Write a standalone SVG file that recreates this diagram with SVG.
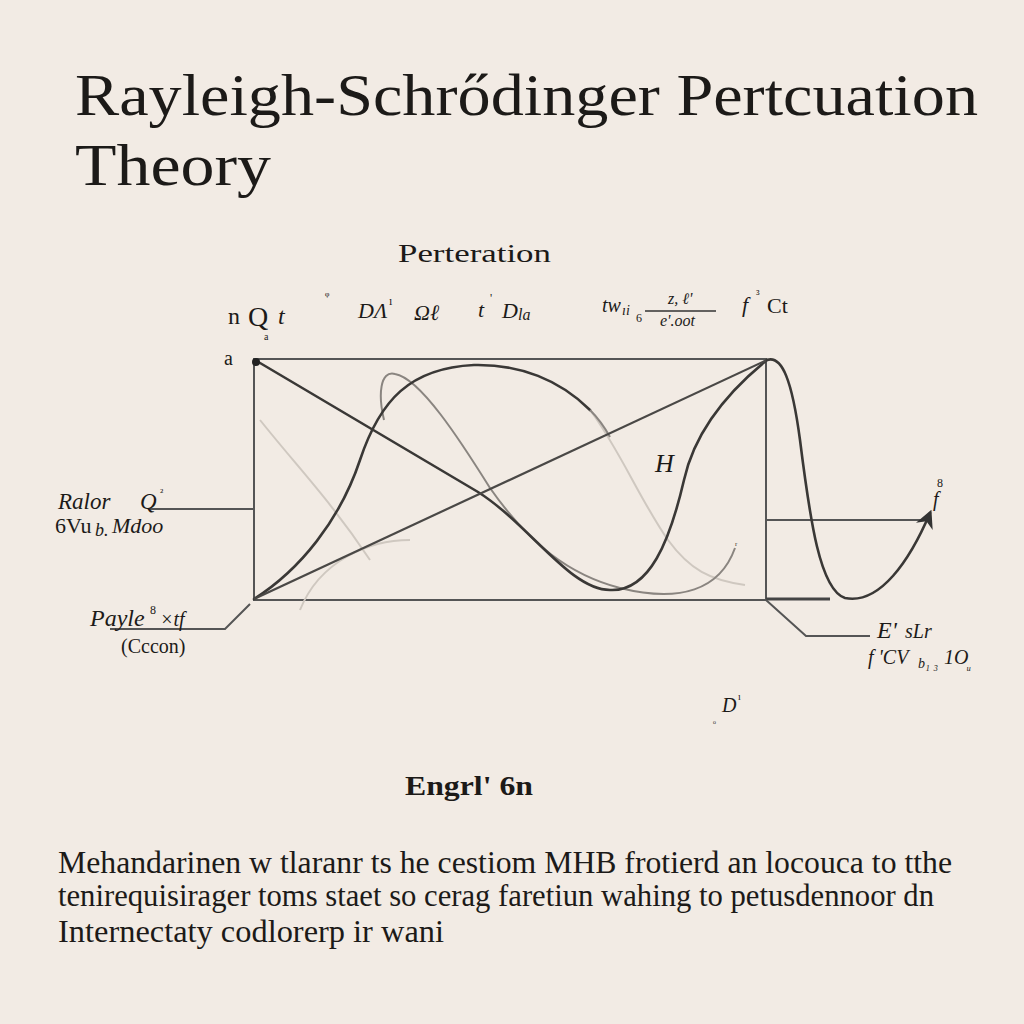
<svg xmlns="http://www.w3.org/2000/svg" width="1024" height="1024" viewBox="0 0 1024 1024">
<defs>
<style>
.t{font-family:"Liberation Serif","DejaVu Serif",serif;fill:#1c1a18}
.i{font-style:italic}
.ln{fill:none;stroke:#555;stroke-width:2}
.dk{fill:none;stroke:#3a3836;stroke-width:2.6;stroke-linecap:round}
.gr{fill:none;stroke:#8a8580;stroke-width:2}
.fa{fill:none;stroke:#cfc8c0;stroke-width:2}
</style>
<marker id="ah" viewBox="0 0 10 10" refX="8" refY="5" markerWidth="7" markerHeight="7" orient="auto"><path d="M0,0 L10,5 L0,10 L3,5 z" fill="#333"/></marker>
</defs>
<rect width="1024" height="1024" fill="#f2ebe4"/>
<g id="title">
<text class="t" x="75" y="115" font-size="60" textLength="903" lengthAdjust="spacingAndGlyphs">Rayleigh-Schrődinger Pertcuation</text>
<text class="t" x="75" y="185" font-size="60" textLength="196" lengthAdjust="spacingAndGlyphs">Theory</text>
</g>
<g id="header-labels">
<text class="t" x="398" y="262" font-size="26" textLength="153" lengthAdjust="spacingAndGlyphs">Perteration</text>
<text class="t" x="228" y="324" font-size="24">n</text>
<text class="t" x="248" y="326" font-size="28">Q</text>
<text class="t i" x="278" y="324" font-size="24">t</text>
<text class="t" x="264" y="340" font-size="10">a</text>
<text class="t" x="325" y="300" font-size="13">ᵠ</text>
<text class="t i" x="358" y="318" font-size="22">DΛ</text>
<text class="t" x="389" y="305" font-size="12">ı</text>
<text class="t i" x="414" y="320" font-size="22">Ωℓ</text>
<text class="t i" x="478" y="317" font-size="22">t</text>
<text class="t" x="490" y="302" font-size="12">'</text>
<text class="t i" x="502" y="318" font-size="22">D</text>
<text class="t i" x="518" y="320" font-size="16">la</text>
<text class="t i" x="602" y="312" font-size="20">tw</text>
<text class="t i" x="622" y="315" font-size="14">ıi</text>
<text class="t" x="636" y="322" font-size="12">6</text>
<text class="t i" x="668" y="304" font-size="16">z, ℓ'</text>
<line x1="645" y1="311" x2="716" y2="311" stroke="#333" stroke-width="1.6"/>
<text class="t i" x="660" y="326" font-size="16">e'.oot</text>
<text class="t i" x="742" y="312" font-size="22">f</text>
<text class="t" x="756" y="298" font-size="12">³</text>
<text class="t" x="767" y="313" font-size="22">Ct</text>
<text class="t" x="224" y="365" font-size="20">a</text>
</g>
<g id="plot">
<rect x="254" y="359" width="512" height="241" class="ln"/>
<line x1="766" y1="520" x2="928" y2="520" class="ln"/>
<line x1="766" y1="599" x2="830" y2="599" stroke="#444" stroke-width="3"/>
<path class="fa" d="M300,610 C320,560 370,540 410,540 M260,420 C300,470 330,500 370,560 M590,410 C620,450 640,500 668,540 C690,570 710,580 745,585"/>
<path class="gr" d="M384,420 C378,395 380,370 395,374 C420,378 460,440 490,488 C530,545 570,575 620,588 C680,603 720,590 735,548"/>
<path class="dk" d="M254,599 C300,570 340,520 360,460 C380,400 410,368 474,365 C520,364 560,380 590,410"/>
<path class="gr" d="M590,410 C600,420 605,428 610,437"/>
<path class="dk" d="M255,360 L478,492 C530,525 570,590 610,590 C650,592 670,540 684,480 C695,430 730,390 767,360"/>
<line x1="254" y1="599" x2="767" y2="360" stroke="#4a4846" stroke-width="2.2"/>
<path class="dk" d="M767,360 C782,355 792,380 800,440 C810,520 820,590 845,598 C880,605 910,560 930,513" marker-end="url(#ah)"/>
<circle cx="256" cy="362" r="4" fill="#222"/>
<text class="t i" x="655" y="472" font-size="26" fill="#444">H</text>
<text class="t" x="735" y="549" font-size="10">ʳ</text>
</g>
<g id="label-left-top">
<line x1="150" y1="509" x2="254" y2="509" class="ln"/>
<text class="t i" x="58" y="509" font-size="23">Ralor</text>
<text class="t i" x="140" y="509" font-size="23">Q</text>
<text class="t" x="160" y="496" font-size="11">²</text>
<text class="t" x="55" y="533" font-size="22">6Vu</text>
<text class="t i" x="95" y="536" font-size="18">b.</text>
<text class="t i" x="112" y="533" font-size="22">Mdoo</text>
</g>
<g id="label-left-bottom">
<path class="ln" d="M110,629 L225,629 L250,604"/>
<text class="t i" x="90" y="626" font-size="24">Payle</text>
<text class="t" x="150" y="614" font-size="12">8</text>
<text class="t i" x="160" y="626" font-size="20">×tf</text>
<text class="t" x="121" y="653" font-size="20">(Cccon)</text>
</g>
<g id="label-right">
<path class="ln" d="M766,600 L806,636 L870,636"/>
<text class="t i" x="877" y="638" font-size="24">E'</text>
<text class="t i" x="905" y="638" font-size="20">sLr</text>
<text class="t i" x="868" y="664" font-size="20">f 'CV</text>
<text class="t i" x="918" y="668" font-size="14">b₁ ₃</text>
<text class="t i" x="944" y="664" font-size="20">1O</text>
<text class="t i" x="967" y="670" font-size="14">ᵤ</text>
<text class="t i" x="933" y="506" font-size="20">f</text>
<text class="t" x="937" y="487" font-size="12">8</text>
</g>
<g id="label-d">
<text class="t i" x="722" y="712" font-size="20">D</text>
<text class="t" x="738" y="700" font-size="10">ı</text>
<text class="t" x="713" y="727" font-size="10">ᵒ</text>
</g>
<g id="caption">
<text class="t" x="405" y="795" font-size="28" font-weight="bold" textLength="128" lengthAdjust="spacingAndGlyphs">Engrl' 6n</text>
</g>
<g id="paragraph">
<text class="t" x="58" y="873" font-size="31" textLength="894" lengthAdjust="spacingAndGlyphs">Mehandarinen w tlaranr ts he cestiom MHB  frotierd an locouca to tthe</text>
<text class="t" x="58" y="906" font-size="31" textLength="876" lengthAdjust="spacingAndGlyphs">tenirequisirager toms staet so cerag faretiun  wahing to petusdennoor dn</text>
<text class="t" x="58" y="942" font-size="31" textLength="386" lengthAdjust="spacingAndGlyphs">Internectaty codlorerp ir wani</text>
</g>
</svg>
